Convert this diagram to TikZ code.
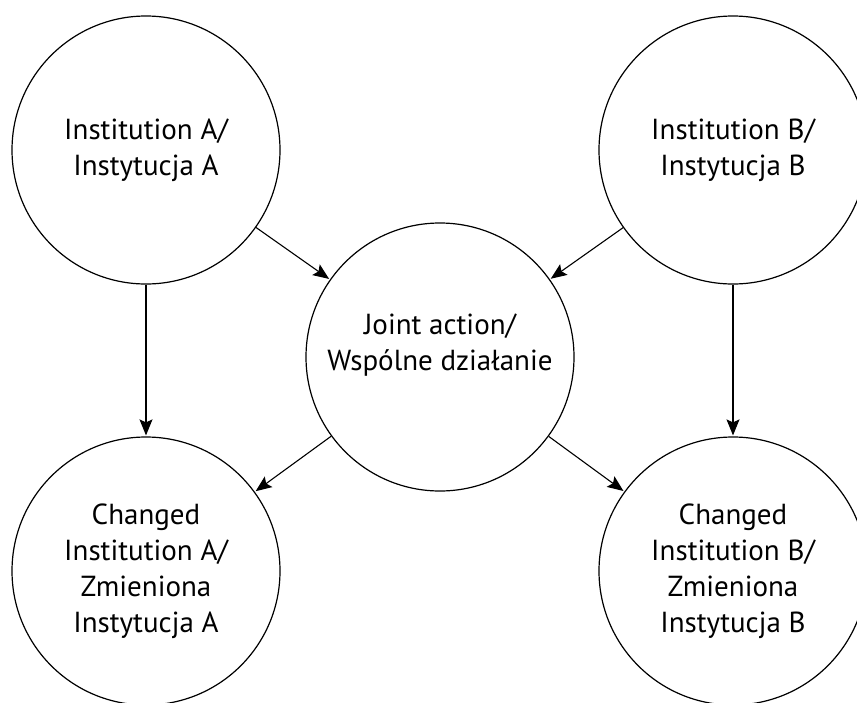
\documentclass[tikz,border=0pt]{standalone}
\usepackage{fontspec}
\setmainfont{PT Sans}
\usetikzlibrary{arrows.meta, positioning}

\begin{document}
\begin{tikzpicture}[
    x=1pt, y=-1pt,
    institution/.style={
        circle,
        draw=black,
        line width=1.2pt,
        minimum size=268pt,
        inner sep=0pt,
        align=center,
        font=\fontsize{29}{36}\selectfont
    },
    arrow/.style={
        -{Stealth[length=16pt, width=13pt, inset=3pt]},
        line width=1.1pt,
        shorten >=1pt
    }
]

\useasboundingbox (0,0) rectangle (857,702);

\node[institution] (instA) at (146,150) {Institution A/\\Instytucja A};
\node[institution] (instB) at (733,150) {Institution B/\\Instytucja B};

\node[institution] (joint) at (440,357) {\raisebox{5pt}[0pt][0pt]{\begin{tabular}{@{}c@{}}Joint action/\\Wspólne działanie\end{tabular}}};

\node[institution] (changedA) at (146,571) {Changed\\Institution A/\\Zmieniona\\Instytucja A};
\node[institution] (changedB) at (733,571) {Changed\\Institution B/\\Zmieniona\\Instytucja B};

\draw[arrow] (instA) -- (joint);
\draw[arrow] (instB) -- (joint);
\draw[arrow] (instA) -- (changedA);
\draw[arrow] (instB) -- (changedB);
\draw[arrow] (joint) -- (changedA);
\draw[arrow] (joint) -- (changedB);

\end{tikzpicture}
\end{document}
